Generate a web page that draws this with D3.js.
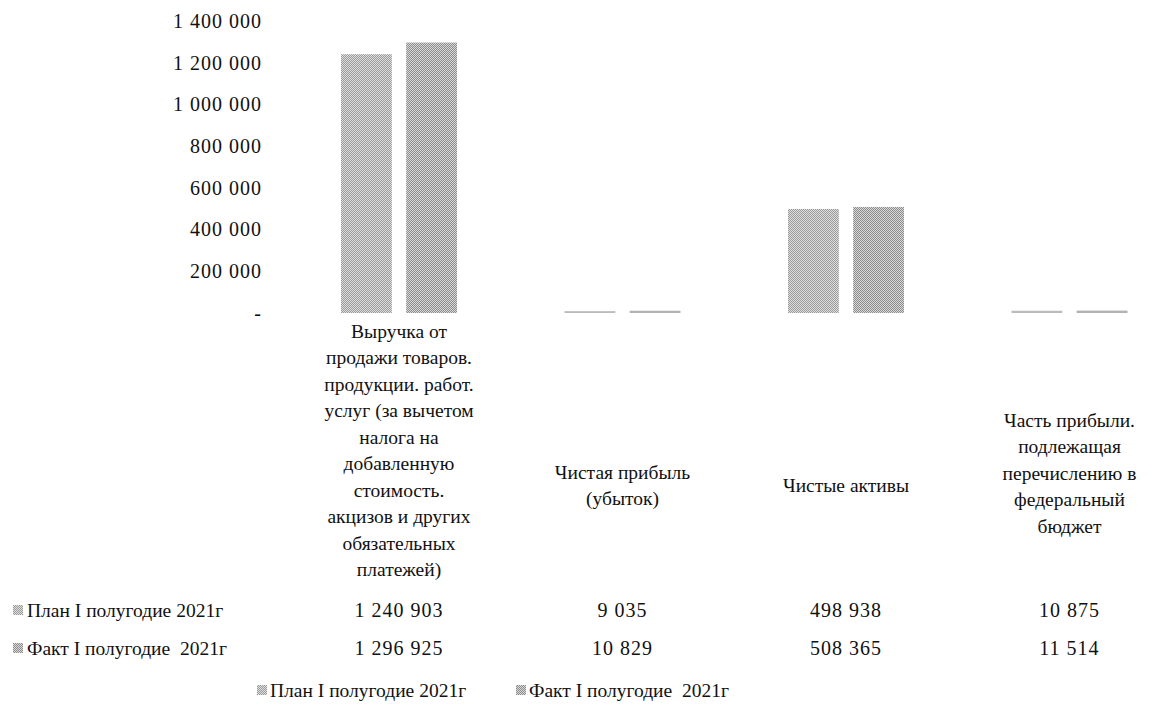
<!DOCTYPE html>
<html>
<head>
<meta charset="utf-8">
<script src="https://cdn.jsdelivr.net/npm/d3@7"></script>
<style>
  body { margin: 0; background: #fff; }
  svg text { font-family: "Liberation Serif", "DejaVu Serif", serif; fill: #111; white-space: pre; }
  .num { font-size: 20px; letter-spacing: 1px; }
</style>
</head>
<body>
<svg id="chart" width="1154" height="711"></svg>
<script>
// categories (as lines of the wrapped axis labels)
var categories = [
    ["Выручка от", "продажи товаров.", "продукции. работ.", "услуг (за вычетом", "налога на", "добавленную", "стоимость.", "акцизов и других", "обязательных", "платежей)"],
    ["Чистая прибыль", "(убыток)"],
    ["Чистые активы"],
    ["Часть прибыли.", "подлежащая", "перечислению в", "федеральный", "бюджет"]
];
var seriesNames = ["План I полугодие 2021г", "Факт I полугодие  2021г"];
var planValues = [1240903, 9035, 498938, 10875];
var factValues = [1296925, 10829, 508365, 11514];
var yTicks = [0, 200000, 400000, 600000, 800000, 1000000, 1200000, 1400000];

var svg = d3.select("#chart");
// thousands separated by a space, zero shown as a dash
var fmt = function(v) { return v === 0 ? "-" : d3.format(",")(v).replace(/,/g, " "); };

// dithered grey textures like the scanned original
var defs = svg.append("defs");
function addPattern(id, dark, light) {
    var p = defs.append("pattern").attr("id", id)
        .attr("patternUnits", "userSpaceOnUse").attr("width", 4).attr("height", 4);
    p.append("rect").attr("width", 4).attr("height", 4).attr("fill", light);
    [[0,0],[2,0],[1,1],[3,1],[0,2],[2,2],[1,3],[3,3]].forEach(function(c) {
        p.append("rect").attr("x", c[0]).attr("y", c[1]).attr("width", 1).attr("height", 1).attr("fill", dark);
    });
}
addPattern("pPlan", "#9a9a9a", "#dedede");
addPattern("pFact", "#8c8c8c", "#d8d8d8");
var fills = ["url(#pPlan)", "url(#pFact)"];

var x0 = d3.scaleBand().domain(d3.range(categories.length)).range([287.25, 1181.25]);
var y = d3.scaleLinear().domain([0, 1400000]).range([313, 21]);

// y axis labels only, no line
var yAxis = d3.axisLeft(y).tickValues(yTicks).tickFormat(fmt).tickSize(0).tickPadding(0);
var gy = svg.append("g").attr("transform", "translate(262,0)").call(yAxis);
gy.select(".domain").remove();
gy.selectAll("text").attr("class", "num").attr("fill", "#111").attr("font-size", null).attr("font-family", null);
gy.attr("font-size", null).attr("font-family", null);

var data = categories.map(function(c, i) { return [planValues[i], factValues[i]]; });

var groups = svg.selectAll("g.cat").data(data).enter().append("g")
    .attr("class", "cat")
    .attr("transform", function(d, i) { return "translate(" + (x0(i) + x0.bandwidth() / 2) + ",0)"; });

var x1 = d3.scaleBand().domain([0, 1]).range([-58, 58]).paddingInner(0.22);

groups.selectAll("rect").data(function(d) { return d; }).enter().append("rect")
    .attr("x", function(d, j) { return x1(j); })
    .attr("width", x1.bandwidth())
    .attr("y", function(d) { return y(d); })
    .attr("height", function(d) { return Math.max(1.5, y(0) - y(d)); })
    .attr("fill", function(d, j) { return fills[j]; });

// wrapped category labels
var labelCenters = [450, 485, 485, 473];
var lineH = 26.5;
groups.append("text")
    .attr("text-anchor", "middle")
    .style("font-size", "19.5px")
    .each(function(d, i) {
        var lines = categories[i];
        var top = labelCenters[i] - (lines.length - 1) * lineH / 2;
        var t = d3.select(this);
        lines.forEach(function(l, k) {
            t.append("tspan").attr("x", 0).attr("y", top + k * lineH).attr("dy", "0.35em").text(l);
        });
    });

// data table rows
var rowsY = [610, 648];
[planValues, factValues].forEach(function(vals, r) {
    svg.append("rect").attr("x", 13).attr("y", rowsY[r] - 5).attr("width", 10).attr("height", 10).attr("fill", fills[r]);
    svg.append("text").attr("x", 27).attr("y", rowsY[r]).attr("dy", "0.35em")
        .style("font-size", "19.5px").text(seriesNames[r]);
    vals.forEach(function(v, i) {
        svg.append("text").attr("class", "num").attr("x", x0(i) + x0.bandwidth() / 2).attr("y", rowsY[r]).attr("dy", "0.35em")
            .attr("text-anchor", "middle").text(fmt(v));
    });
});

// bottom legend
var legendX = [257, 516];
seriesNames.forEach(function(name, j) {
    var g = svg.append("g").attr("transform", "translate(" + legendX[j] + ",690)");
    g.append("rect").attr("x", 0).attr("y", -5).attr("width", 10).attr("height", 10).attr("fill", fills[j]);
    g.append("text").attr("x", 13).attr("dy", "0.35em").style("font-size", "19.5px").text(name);
});
</script>
</body>
</html>
